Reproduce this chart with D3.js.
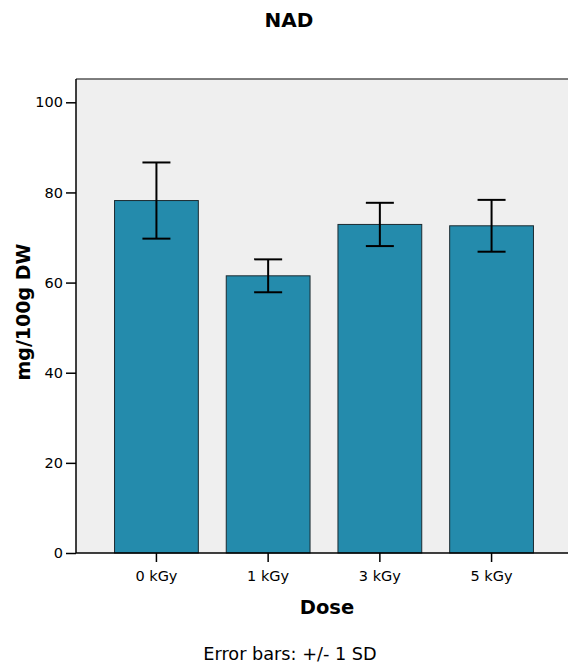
<!DOCTYPE html>
<html>
<head>
<meta charset="utf-8">
<script src="https://cdn.jsdelivr.net/npm/d3@7"></script>
<style>
  html, body { margin: 0; padding: 0; background: #ffffff; }
  svg { display: block; font-family: "DejaVu Sans", sans-serif; }
</style>
</head>
<body>
<svg id="chart" width="568" height="666"></svg>
<script>
// NAD content by irradiation dose (mean ± 1 SD)
const doses = ["0 kGy", "1 kGy", "3 kGy", "5 kGy"];
const means = [78.2, 61.5, 72.9, 72.6];
const sds = [8.45, 3.65, 4.8, 5.75];
const yTicks = [0, 20, 40, 60, 80, 100];

const svg = d3.select("#chart");

const plot = { left: 76, right: 572, top: 79, bottom: 553 };

const x = d3.scaleBand()
  .domain(doses)
  .range([plot.left, plot.right])
  .paddingInner(0.25)
  .paddingOuter(0.345);

const y = d3.scaleLinear()
  .domain([0, 100])
  .range([plot.bottom, 102.3]);

// panel background
svg.append("rect")
  .attr("x", plot.left)
  .attr("y", plot.top)
  .attr("width", plot.right - plot.left)
  .attr("height", plot.bottom - plot.top)
  .attr("fill", "#efefef");

// top frame line
svg.append("line")
  .attr("x1", plot.left).attr("x2", plot.right)
  .attr("y1", plot.top).attr("y2", plot.top)
  .attr("stroke", "#555555").attr("stroke-width", 1.5);

const data = doses.map((d, i) => ({ dose: d, mean: means[i], sd: sds[i] }));

// bars
svg.append("g").selectAll("rect")
  .data(data)
  .join("rect")
  .attr("x", d => x(d.dose))
  .attr("y", d => y(d.mean))
  .attr("width", x.bandwidth())
  .attr("height", d => y(0) - y(d.mean))
  .attr("fill", "#248bac")
  .attr("stroke", "#1b2a30")
  .attr("stroke-width", 1);

// error bars
const capHalf = 14;
const eb = svg.append("g")
  .attr("stroke", "#000000")
  .attr("stroke-width", 2)
  .selectAll("g")
  .data(data)
  .join("g");

eb.append("line")
  .attr("x1", d => x(d.dose) + x.bandwidth() / 2)
  .attr("x2", d => x(d.dose) + x.bandwidth() / 2)
  .attr("y1", d => y(d.mean + d.sd))
  .attr("y2", d => y(d.mean - d.sd));
eb.append("line")
  .attr("x1", d => x(d.dose) + x.bandwidth() / 2 - capHalf)
  .attr("x2", d => x(d.dose) + x.bandwidth() / 2 + capHalf)
  .attr("y1", d => y(d.mean + d.sd))
  .attr("y2", d => y(d.mean + d.sd));
eb.append("line")
  .attr("x1", d => x(d.dose) + x.bandwidth() / 2 - capHalf)
  .attr("x2", d => x(d.dose) + x.bandwidth() / 2 + capHalf)
  .attr("y1", d => y(d.mean - d.sd))
  .attr("y2", d => y(d.mean - d.sd));

// y axis
const yAxis = svg.append("g")
  .attr("transform", `translate(${plot.left},0)`)
  .call(d3.axisLeft(y).tickValues(yTicks).tickSize(10).tickSizeOuter(0).tickPadding(3));
yAxis.select(".domain")
  .attr("d", `M0,${plot.top}V${plot.bottom}`)
  .attr("stroke", "#000").attr("stroke-width", 1.5);
yAxis.selectAll(".tick line").attr("stroke", "#000").attr("stroke-width", 1.5);
yAxis.selectAll(".tick text")
  .attr("font-family", "DejaVu Sans, sans-serif")
  .attr("font-size", 14.5)
  .attr("fill", "#000");

// x axis
const xAxis = svg.append("g")
  .attr("transform", `translate(0,${plot.bottom})`)
  .call(d3.axisBottom(x).tickSize(9).tickSizeOuter(0).tickPadding(9));
xAxis.select(".domain")
  .attr("d", `M${plot.left},0H${plot.right}`)
  .attr("stroke", "#000").attr("stroke-width", 1.5);
xAxis.selectAll(".tick line").attr("stroke", "#000").attr("stroke-width", 1.5);
xAxis.selectAll(".tick text")
  .attr("font-family", "DejaVu Sans, sans-serif")
  .attr("font-size", 14.5)
  .attr("fill", "#000");

// title
svg.append("text")
  .attr("x", 289).attr("y", 27)
  .attr("text-anchor", "middle")
  .attr("font-size", 20).attr("font-weight", "bold")
  .text("NAD");

// axis titles
svg.append("text")
  .attr("transform", "translate(30,312) rotate(-90)")
  .attr("text-anchor", "middle")
  .attr("font-size", 19).attr("font-weight", "bold")
  .text("mg/100g DW");

svg.append("text")
  .attr("x", 327).attr("y", 614)
  .attr("text-anchor", "middle")
  .attr("font-size", 19.5).attr("font-weight", "bold")
  .text("Dose");

// footnote
svg.append("text")
  .attr("x", 290).attr("y", 660)
  .attr("text-anchor", "middle")
  .attr("font-size", 17.7)
  .text("Error bars: +/- 1 SD");
</script>
</body>
</html>
